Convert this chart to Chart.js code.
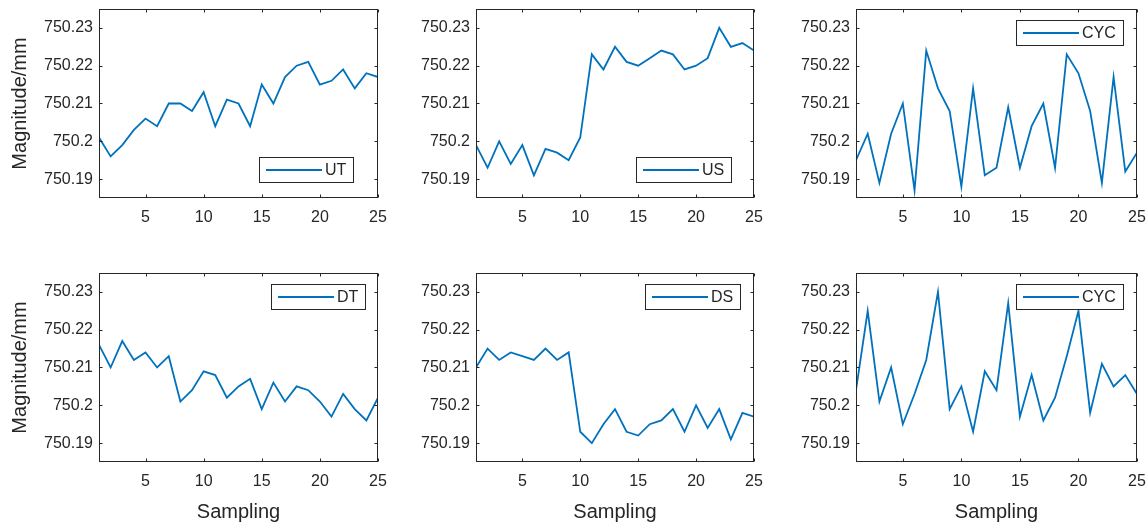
<!DOCTYPE html>
<html>
<head>
<meta charset="utf-8">
<script src="https://cdn.jsdelivr.net/npm/chart.js@4.4.0/dist/chart.umd.min.js"></script>
<style>
  body { margin: 0; background: #fff; width: 1148px; height: 524px; overflow: hidden; position: relative; }
  .panel { position: absolute; }
</style>
</head>
<body>
<script>
// sampling index and tick values
const sampling = [1, 2, 3, 4, 5, 6, 7, 8, 9, 10, 11, 12, 13, 14, 15, 16, 17, 18, 19, 20, 21, 22, 23, 24, 25];
const xTicks = [5, 10, 15, 20, 25];
const yTicks = [750.19, 750.2, 750.21, 750.22, 750.23];

// measured magnitudes (mm)
const ut = [750.201, 750.196, 750.199, 750.203, 750.206, 750.204, 750.21, 750.21, 750.208, 750.213,
  750.204, 750.211, 750.21, 750.204, 750.215, 750.21, 750.217, 750.22, 750.221, 750.215,
  750.216, 750.219, 750.214, 750.218, 750.217];
const us = [750.199, 750.193, 750.2, 750.194, 750.199, 750.191, 750.198, 750.197, 750.195, 750.201,
  750.223, 750.219, 750.225, 750.221, 750.22, 750.222, 750.224, 750.223, 750.219, 750.22,
  750.222, 750.23, 750.225, 750.226, 750.224];
const cycTop = [750.195, 750.202, 750.189, 750.202, 750.21, 750.187, 750.224, 750.214, 750.208, 750.188,
  750.214, 750.191, 750.193, 750.209, 750.193, 750.204, 750.21, 750.193, 750.223, 750.218,
  750.208, 750.189, 750.217, 750.192, 750.197];
const dt = [750.216, 750.21, 750.217, 750.212, 750.214, 750.21, 750.213, 750.201, 750.204, 750.209,
  750.208, 750.202, 750.205, 750.207, 750.199, 750.206, 750.201, 750.205, 750.204, 750.201,
  750.197, 750.203, 750.199, 750.196, 750.202];
const ds = [750.21, 750.215, 750.212, 750.214, 750.213, 750.212, 750.215, 750.212, 750.214, 750.193,
  750.19, 750.195, 750.199, 750.193, 750.192, 750.195, 750.196, 750.199, 750.193, 750.2,
  750.194, 750.199, 750.191, 750.198, 750.197];
const cycBottom = [750.204, 750.225, 750.201, 750.21, 750.195, 750.203, 750.212, 750.23, 750.199, 750.205,
  750.193, 750.209, 750.204, 750.227, 750.197, 750.208, 750.196, 750.202, 750.213, 750.225,
  750.198, 750.211, 750.205, 750.208, 750.203];

const FONT = "'Liberation Sans', Arial, Helvetica, sans-serif";
const INK = '#262626';
const LINE = '#0072BD';

const plotLefts = [99, 476, 856];
const plotWidths = [279, 278, 281];
const plotTops = [9, 273];
const plotH = 189;
const axisW = 99, padTop = 9, padRight = 14, xAxisH = 62;

const panels = [
  { data: ut, label: 'UT', row: 0, col: 0, corner: 'br', dx: 24, dy: 15 },
  { data: us, label: 'US', row: 0, col: 1, corner: 'br', dx: 22, dy: 15 },
  { data: cycTop, label: 'CYC', row: 0, col: 2, corner: 'tr', dx: 13, dy: 11 },
  { data: dt, label: 'DT', row: 1, col: 0, corner: 'tr', dx: 12, dy: 11 },
  { data: ds, label: 'DS', row: 1, col: 1, corner: 'tr', dx: 13, dy: 11 },
  { data: cycBottom, label: 'CYC', row: 1, col: 2, corner: 'tr', dx: 13, dy: 11 },
];

// box around the axes with inward ticks on all four sides
const boxPlugin = {
  id: 'matlabBox',
  afterDatasetsDraw(chart) {
    const { ctx, chartArea: a, scales: { x, y } } = chart;
    const L = Math.round(a.left) + 0.5, R = Math.round(a.right) - 0.5;
    const T = Math.round(a.top) + 0.5, B = Math.round(a.bottom) - 0.5;
    ctx.save();
    ctx.strokeStyle = INK;
    ctx.lineWidth = 1;
    ctx.beginPath();
    xTicks.forEach(v => {
      const px = Math.round(x.getPixelForValue(v)) + 0.5;
      ctx.moveTo(px, B); ctx.lineTo(px, B - 3);
      ctx.moveTo(px, T); ctx.lineTo(px, T + 3);
    });
    yTicks.forEach(v => {
      const py = Math.round(y.getPixelForValue(v)) + 0.5;
      ctx.moveTo(L, py); ctx.lineTo(L + 3, py);
      ctx.moveTo(R, py); ctx.lineTo(R - 3, py);
    });
    ctx.stroke();
    ctx.strokeRect(L, T, R - L, B - T);
    ctx.restore();
  }
};

// MATLAB style legend box inside the axes
const legendPlugin = {
  id: 'innerLegend',
  afterDraw(chart, args, opts) {
    const { ctx, chartArea: a } = chart;
    ctx.save();
    ctx.font = '16px ' + FONT;
    const tw = ctx.measureText(opts.text).width;
    const w = Math.round(66 + tw + 8), h = 26;
    const left = Math.round(a.right - opts.dx - w);
    const top = opts.corner === 'br' ? Math.round(a.bottom - opts.dy - h) : Math.round(a.top + opts.dy);
    ctx.fillStyle = '#fff';
    ctx.fillRect(left, top, w, h);
    ctx.strokeStyle = INK;
    ctx.lineWidth = 1;
    ctx.strokeRect(left + 0.5, top + 0.5, w - 1, h - 1);
    ctx.strokeStyle = LINE;
    ctx.lineWidth = 2;
    ctx.beginPath();
    ctx.moveTo(left + 7, top + h / 2);
    ctx.lineTo(left + 63, top + h / 2);
    ctx.stroke();
    ctx.fillStyle = INK;
    ctx.textBaseline = 'middle';
    ctx.fillText(opts.text, left + 66, top + h / 2 + 1);
    ctx.restore();
  }
};

panels.forEach(p => {
  const div = document.createElement('div');
  div.className = 'panel';
  const w = axisW + plotWidths[p.col] + padRight;
  const h = padTop + plotH + xAxisH;
  div.style.left = (plotLefts[p.col] - axisW) + 'px';
  div.style.top = (plotTops[p.row] - padTop) + 'px';
  div.style.width = w + 'px';
  div.style.height = h + 'px';
  const canvas = document.createElement('canvas');
  canvas.width = w;
  canvas.height = h;
  div.appendChild(canvas);
  document.body.appendChild(div);

  new Chart(canvas.getContext('2d'), {
    type: 'line',
    data: {
      datasets: [{
        label: p.label,
        data: sampling.map((s, i) => ({ x: s, y: p.data[i] })),
        borderColor: LINE,
        borderWidth: 1.8,
        pointRadius: 0,
        tension: 0,
        fill: false
      }]
    },
    options: {
      responsive: false,
      animation: false,
      events: [],
      layout: { padding: { left: 0, top: padTop, right: padRight, bottom: 0 } },
      plugins: {
        legend: { display: false },
        tooltip: { enabled: false },
        innerLegend: { text: p.label, corner: p.corner, dx: p.dx, dy: p.dy }
      },
      scales: {
        x: {
          type: 'linear',
          min: 1,
          max: 25,
          afterBuildTicks: s => { s.ticks = xTicks.map(v => ({ value: v })); },
          afterFit: s => { s.height = xAxisH; s.paddingLeft = 0; s.paddingRight = 0; },
          grid: { display: false, drawTicks: false },
          border: { display: false },
          ticks: { color: INK, padding: 10, maxRotation: 0, font: { family: FONT, size: 16 } },
          title: {
            display: p.row === 1,
            text: 'Sampling',
            color: INK,
            padding: { top: 0, bottom: 0 },
            font: { family: FONT, size: 20 }
          }
        },
        y: {
          min: 750.185,
          max: 750.235,
          afterBuildTicks: s => { s.ticks = yTicks.map(v => ({ value: v })); },
          afterFit: s => { s.width = axisW; s.paddingTop = 0; s.paddingBottom = 0; },
          grid: { display: false, drawTicks: false },
          border: { display: false },
          ticks: {
            color: INK,
            padding: 6,
            font: { family: FONT, size: 16 },
            callback: v => String(Number(v.toFixed(2)))
          },
          title: {
            display: p.col === 0,
            text: 'Magnitude/mm',
            color: INK,
            padding: { top: 8, bottom: 0 },
            font: { family: FONT, size: 20 }
          }
        }
      }
    },
    plugins: [boxPlugin, legendPlugin]
  });
});
</script>
</body>
</html>
